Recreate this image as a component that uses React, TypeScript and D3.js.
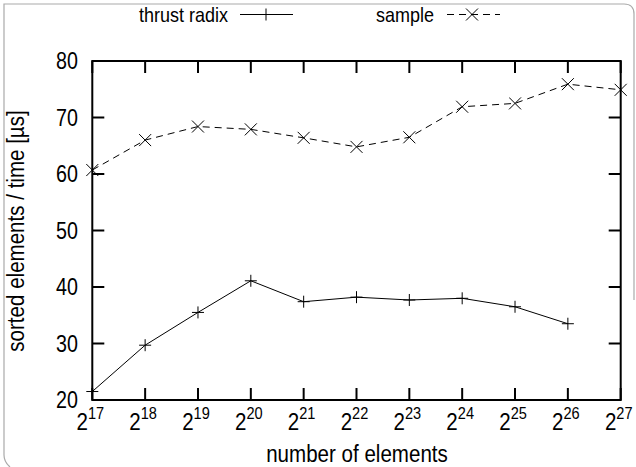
import React from 'react';
import * as d3 from 'd3';

// exponents of 2 on the x axis
const exponents = [17, 18, 19, 20, 21, 22, 23, 24, 25, 26, 27];
const thrustRadix = [21.5, 29.7, 35.5, 41.1, 37.4, 38.2, 37.7, 38.0, 36.5, 33.5];
const sample = [60.7, 66.0, 68.4, 67.9, 66.4, 64.8, 66.5, 71.9, 72.5, 75.9, 74.9];
const yTicks = [20, 30, 40, 50, 60, 70, 80];

const W = 636, H = 467;
const left = 92.3, right = 620.7, top = 61, bottom = 400;
const font = '"Liberation Sans", Arial, sans-serif';
const squeeze = 0.857; // the original font is narrower than Liberation Sans

// text drawn with a horizontal squeeze around its anchor point
function T(props: { x: number; y: number; size: number; anchor?: string; rotate?: number; dy?: string; children: React.ReactNode }) {
  const { x, y, size, anchor = 'start', rotate = 0, dy, children } = props;
  return (
    <g transform={`translate(${x},${y}) rotate(${rotate}) scale(${squeeze},1)`}>
      <text textAnchor={anchor} fontSize={size} dy={dy}>{children}</text>
    </g>
  );
}

export default function App() {
  const x = d3.scaleLinear().domain([17, 27]).range([left, right]);
  const y = d3.scaleLinear().domain([20, 80]).range([bottom, top]);

  const line = d3.line<number>()
    .x((d, i) => x(exponents[i]))
    .y(d => y(d));

  const plus = (cx: number, cy: number, k: string) => (
    <path key={k} d={`M${cx - 6},${cy}H${cx + 6}M${cx},${cy - 6}V${cy + 6}`} stroke="#000" strokeWidth={1} />
  );
  const cross = (cx: number, cy: number, k: string) => (
    <path key={k} d={`M${cx - 6},${cy - 6}L${cx + 6},${cy + 6}M${cx - 6},${cy + 6}L${cx + 6},${cy - 6}`} stroke="#000" strokeWidth={1} />
  );

  return (
    <svg width={W} height={H} style={{ position: 'absolute', left: 0, top: 0 }} fontFamily={font}>
      <rect width={W} height={H} fill="#fff" />
      {/* outer frame */}
      <path d="M10,467 Q4,462 4,455 L4,4 L624,4 Q634,4 634,14 L634,300" fill="none" stroke="#aaa" strokeWidth={1.2} />

      {/* ticks */}
      {exponents.map(e => (
        <g key={'xt' + e}>
          <line x1={x(e)} x2={x(e)} y1={top} y2={top + 12} stroke="#000" strokeWidth={2} />
          <line x1={x(e)} x2={x(e)} y1={bottom} y2={bottom - 12} stroke="#000" strokeWidth={2} />
          <T x={x(e) - 2} y={430} size={24} anchor="middle">
            2<tspan fontSize={17} dy={-11}>{e}</tspan>
          </T>
        </g>
      ))}
      {yTicks.map(t => (
        <g key={'yt' + t}>
          <line x1={left} x2={left + 12} y1={y(t)} y2={y(t)} stroke="#000" strokeWidth={2} />
          <line x1={right} x2={right - 12} y1={y(t)} y2={y(t)} stroke="#000" strokeWidth={2} />
          <T x={78} y={y(t)} dy="0.36em" size={23} anchor="end">{t}</T>
        </g>
      ))}

      {/* data */}
      <path d={line(thrustRadix) || ''} fill="none" stroke="#000" strokeWidth={1} />
      {thrustRadix.map((v, i) => plus(x(exponents[i]), y(v), 'p' + i))}
      <path d={line(sample) || ''} fill="none" stroke="#000" strokeWidth={1} strokeDasharray="7,5" />
      {sample.map((v, i) => cross(x(exponents[i]), y(v), 'c' + i))}

      {/* plot border */}
      <rect x={left} y={top} width={right - left} height={bottom - top} fill="none" stroke="#000" strokeWidth={2} />

      {/* legend */}
      <T x={228} y={22} size={21} anchor="end">thrust radix</T>
      <line x1={240} x2={293} y1={14.5} y2={14.5} stroke="#000" strokeWidth={1} />
      {plus(266, 14.5, 'lp')}
      <T x={434} y={22} size={21} anchor="end">sample</T>
      <line x1={447} x2={500} y1={14.5} y2={14.5} stroke="#000" strokeWidth={1} strokeDasharray="7,5" />
      {cross(472, 14.5, 'lc')}

      {/* axis labels */}
      <T x={357} y={462} size={24} anchor="middle">number of elements</T>
      <g transform="translate(24,231) rotate(-90)">
        <g transform={`scale(${squeeze},1)`}>
          <text textAnchor="middle" fontSize={24}>sorted elements / time [µs]</text>
        </g>
      </g>
    </svg>
  );
}
